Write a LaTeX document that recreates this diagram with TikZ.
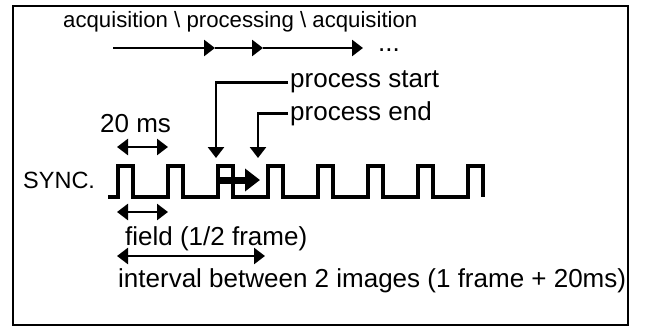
\documentclass[tikz,border=0pt]{standalone}
\usepackage{fontspec}
\setmainfont{Liberation Sans}
\usetikzlibrary{arrows.meta}
\begin{document}
\begin{tikzpicture}[x=1pt,y=-1pt,
  lbl/.style={inner sep=0pt, anchor=base west, font=\fontsize{26}{30}\selectfont},
  tip/.style={inner sep=2pt, anchor=base west, font=\fontsize{26}{30}\selectfont},
  arr/.style={line width=2.7pt, -{Triangle[length=11pt,width=16pt]}},
  darr/.style={line width=2.7pt, {Triangle[length=11pt,width=16pt]}-{Triangle[length=11pt,width=16pt]}},
  wave/.style={line width=3.2pt, line join=miter},
  bigarr/.style={line width=7pt, -{Triangle[length=15pt,width=22pt]}},
  frame/.style={line width=2.8pt}]
\useasboundingbox (0,0) rectangle (648,329);
\draw[frame] (13,6) rectangle (628,325);
% top sequence
\node[lbl, font=\fontsize{22.2}{26}\selectfont] (seq) at (63,28) {acquisition \textbackslash\ processing \textbackslash\ acquisition};
\coordinate (a0) at (113,48);
\coordinate (a1) at (215,48);
\coordinate (a2) at (263,48);
\coordinate (a3) at (363,48);
\draw[arr] (a0) -- (a1);
\draw[arr] (a1) -- (a2);
\draw[arr] (a2) -- (a3);
\node[lbl] (dots) at (378,52) {...};
% process labels
\node[tip] (pstart) at (288,88) {process start};
\node[tip] (pend) at (288,120) {process end};
\coordinate (psT) at (216,158);
\coordinate (peT) at (258,158);
\draw[arr] (pstart.west) -| (psT);
\draw[arr] (pend.west) -| (peT);
% 20 ms
\node[lbl] (ms) at (100,132) {20 ms};
\coordinate (m0) at (117,147);
\coordinate (m1) at (168,147);
\draw[darr] (m0) -- (m1);
% sync waveform
\node[lbl, font=\fontsize{23.5}{28}\selectfont] (sync) at (23,188) {SYNC.};
\draw[wave] (108,197) foreach \i in {0,...,7} { -- ({118+50*\i},197) -- ({118+50*\i},166) -- ({133+50*\i},166) -- ({133+50*\i},197) };
\coordinate (b0) at (218,180);
\coordinate (b1) at (260,180);
\draw[bigarr] (b0) -- (b1);
% field
\coordinate (f0) at (117,212);
\coordinate (f1) at (168,212);
\draw[darr] (f0) -- (f1);
\node[lbl] (field) at (125,245) {field (1/2 frame)};
% interval
\coordinate (i0) at (117,256);
\coordinate (i1) at (265,256);
\draw[darr] (i0) -- (i1);
\node[lbl] (interval) at (118,287) {interval between 2 images (1 frame + 20ms)};
\end{tikzpicture}
\end{document}
